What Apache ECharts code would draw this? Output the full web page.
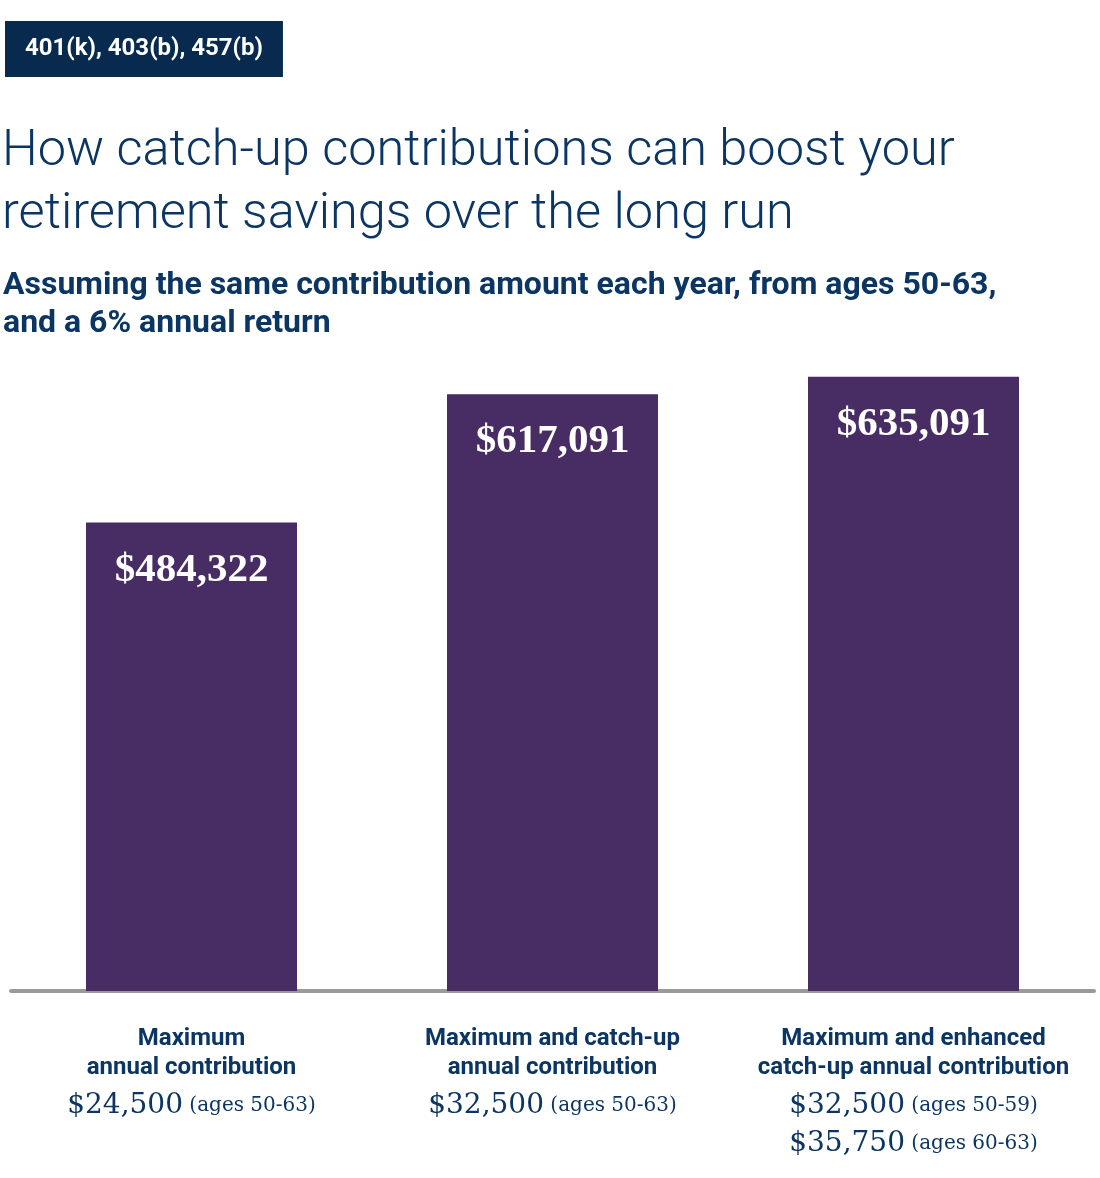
<!DOCTYPE html>
<html>
<head>
<meta charset="utf-8">
<title>Catch-up contributions</title>
<script src="https://cdn.jsdelivr.net/npm/echarts@6/dist/echarts.min.js"></script>
<style>
  html, body { margin: 0; padding: 0; background: #ffffff; }
  #chart { width: 1100px; height: 1178px; }
</style>
</head>
<body>
<div id="chart"></div>
<script>
// chart data
var badgeText = '401(k), 403(b), 457(b)';
var titleText = 'How catch-up contributions can boost your\nretirement savings over the long run';
var subtitleText = 'Assuming the same contribution amount each year, from ages 50-63,\nand a 6% annual return';
var categories = [
    'Maximum\nannual contribution',
    'Maximum and catch-up\nannual contribution',
    'Maximum and enhanced\ncatch-up annual contribution'
];
var totals = [484322, 617091, 635091];
var amounts = [['$24,500'], ['$32,500'], ['$32,500', '$35,750']];
var ages = [['(ages 50-63)'], ['(ages 50-63)'], ['(ages 50-59)', '(ages 60-63)']];

var navy = '#0b3563';
var purple = '#472d64';

var chart = echarts.init(document.getElementById('chart'));

var option = {
    animation: false,
    backgroundColor: '#ffffff',
    title: [{
        text: badgeText,
        left: 5,
        top: 21,
        padding: [16, 20],
        backgroundColor: '#082a4f',
        textStyle: {
            color: '#ffffff',
            fontFamily: 'Roboto',
            fontWeight: 'bold',
            fontSize: 24,
            lineHeight: 24
        }
    }, {
        text: titleText,
        left: 2,
        top: 121,
        padding: 0,
        textStyle: {
            color: navy,
            fontFamily: 'Roboto',
            fontWeight: 300,
            fontSize: 50.5,
            lineHeight: 63
        }
    }, {
        text: subtitleText,
        left: 3,
        top: 267,
        padding: 0,
        textStyle: {
            color: navy,
            fontFamily: 'Roboto',
            fontWeight: 'bold',
            fontSize: 32,
            lineHeight: 38
        }
    }],
    grid: {
        left: 11,
        right: 6,
        top: 314,
        bottom: 187,
        containLabel: false
    },
    xAxis: {
        type: 'category',
        data: categories,
        axisTick: { show: false },
        axisLine: {
            lineStyle: { color: '#9a9a9a', width: 4 }
        },
        axisLabel: {
            interval: 0,
            margin: 33,
            formatter: function (value, index) {
                var lines = value.split('\n').map(function (l) {
                    return '{h|' + l + '}';
                });
                amounts[index].forEach(function (a, i) {
                    var k = i === 0 ? '1' : '2';
                    lines.push('{amt' + k + '|' + a + '}{age' + k + '| ' + ages[index][i] + '}');
                });
                return lines.join('\n');
            },
            rich: {
                h: {
                    color: navy,
                    fontFamily: 'Roboto',
                    fontWeight: 'bold',
                    fontSize: 24,
                    lineHeight: 29,
                    align: 'center'
                },
                amt1: {
                    color: navy,
                    fontFamily: 'DejaVu Serif',
                    fontSize: 28,
                    lineHeight: 47,
                    align: 'center'
                },
                age1: {
                    color: navy,
                    fontFamily: 'DejaVu Serif',
                    fontSize: 20,
                    lineHeight: 47,
                    align: 'center'
                },
                amt2: {
                    color: navy,
                    fontFamily: 'DejaVu Serif',
                    fontSize: 28,
                    lineHeight: 29,
                    align: 'center'
                },
                age2: {
                    color: navy,
                    fontFamily: 'DejaVu Serif',
                    fontSize: 20,
                    lineHeight: 29,
                    align: 'center'
                }
            }
        }
    },
    yAxis: {
        type: 'value',
        min: 0,
        max: 700000,
        show: false,
        splitLine: { show: false }
    },
    series: [{
        type: 'bar',
        data: totals,
        barWidth: 211,
        itemStyle: { color: purple },
        label: {
            show: true,
            position: 'insideTop',
            distance: 27,
            color: '#ffffff',
            fontFamily: 'Liberation Serif',
            fontWeight: 'bold',
            fontSize: 41,
            formatter: function (p) {
                return '$' + p.value.toLocaleString('en-US');
            }
        }
    }]
};

chart.setOption(option);
</script>
</body>
</html>
